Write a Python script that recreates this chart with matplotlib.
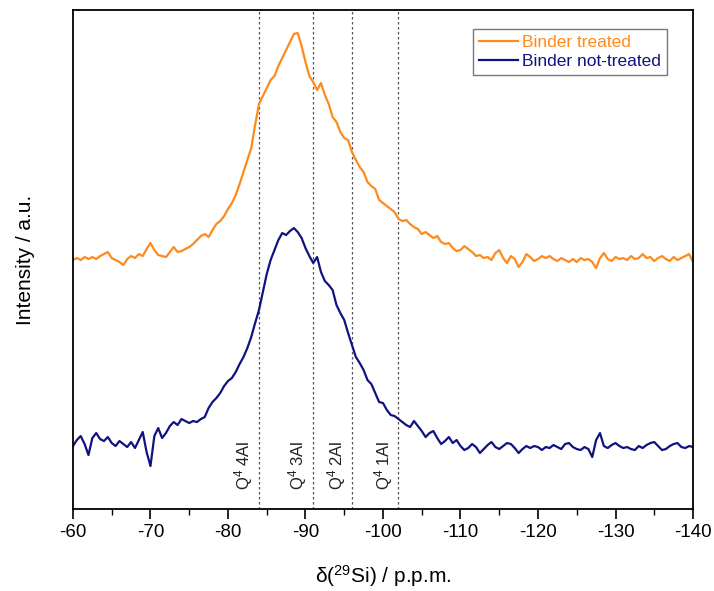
import numpy as np
import matplotlib
matplotlib.use("Agg")
import matplotlib.pyplot as plt

plt.rcParams["font.family"] = ["Liberation Sans", "DejaVu Sans"]
plt.rcParams["mathtext.fontset"] = "custom"
plt.rcParams["mathtext.rm"] = "Liberation Sans"
plt.rcParams["mathtext.it"] = "Liberation Sans:italic"
plt.rcParams["axes.unicode_minus"] = False

# chemical shift axis, -60 ... -140 ppm every 0.5 ppm
shift = -np.arange(60, 140.5, 0.5)

# intensities (a.u.)
treated = [
    249, 251, 249, 252, 250, 252, 250, 253, 255, 257,
    251, 249, 247, 244, 250, 253, 251, 255, 253, 260,
    266, 259, 254, 253, 252, 257, 262, 257, 258, 260,
    262, 265, 269, 273, 275, 272, 279, 285, 288, 293,
    300, 306, 314, 325, 337, 349, 361, 384, 405, 413,
    421, 429, 433, 443, 451, 459, 467, 475, 476, 463,
    447, 433, 427, 419, 426, 414, 405, 392, 387, 377,
    371, 369, 357, 349, 342, 337, 327, 323, 320, 309,
    306, 303, 300, 297, 290, 288, 289, 285, 282, 280,
    275, 277, 274, 271, 273, 267, 265, 266, 261, 258,
    259, 263, 260, 257, 253, 254, 251, 252, 249, 256,
    259, 251, 246, 253, 250, 242, 247, 255, 252, 248,
    250, 253, 251, 253, 250, 248, 251, 249, 247, 250,
    247, 251, 249, 250, 247, 241, 251, 256, 250, 248,
    252, 250, 251, 249, 253, 250, 251, 255, 251, 252,
    248, 251, 253, 250, 248, 252, 249, 251, 253, 255,
    247,
]
not_treated = [
    63, 69, 73, 65, 54, 71, 76, 70, 68, 72,
    66, 63, 68, 65, 62, 67, 61, 69, 77, 57,
    43, 73, 81, 71, 76, 83, 87, 84, 90, 88,
    86, 88, 87, 90, 92, 101, 107, 111, 116, 123,
    128, 131, 137, 145, 152, 161, 172, 186, 199, 217,
    235, 249, 259, 269, 276, 274, 278, 281, 277, 271,
    261, 253, 246, 252, 237, 228, 224, 219, 204, 196,
    189, 176, 164, 152, 146, 139, 129, 125, 116, 107,
    106, 99, 94, 93, 90, 87, 84, 82, 88, 83,
    78, 72, 76, 78, 71, 65, 68, 72, 66, 69,
    63, 59, 61, 65, 62, 56, 60, 64, 67, 62,
    60, 63, 66, 65, 61, 56, 60, 63, 61, 63,
    62, 59, 62, 61, 64, 62, 60, 65, 66, 62,
    60, 59, 62, 60, 52, 69, 76, 63, 61, 64,
    66, 63, 61, 62, 60, 59, 63, 61, 64, 66,
    67, 63, 59, 60, 63, 65, 66, 62, 61, 63,
    62,
]

site_pos = [-84, -91, -96, -102]
site_labels = ["Q$^4$ 4Al", "Q$^4$ 3Al", "Q$^4$ 2Al", "Q$^4$ 1Al"]

orange = "#ff8a1c"
navy = "#10137f"

fig = plt.figure(figsize=(7.14, 5.91), dpi=100)
ax = fig.add_axes([0.1022, 0.1387, 0.8684, 0.8443])

ax.plot(shift, treated, color=orange, lw=1.6, label="Binder treated")
ax.plot(shift, not_treated, color=navy, lw=1.6, label="Binder not-treated")

for xp, lab in zip(site_pos, site_labels):
    ax.axvline(xp, color="#555555", lw=0.9, ls=(0, (2, 2)), zorder=0)
    ax.text(xp + 0.5, 19, lab, rotation=90, ha="right", va="bottom",
            fontsize=12, color="#222222")

ax.set_xlim(-60, -140)
ax.set_ylim(0, 499)
ax.set_xticks(np.arange(-60, -141, -10))
ax.set_xticks(np.arange(-65, -140, -10), minor=True)
ax.tick_params(axis="x", which="major", direction="out", length=7, width=1.2,
               labelsize=13.5, top=False, pad=4)
ax.tick_params(axis="x", which="minor", direction="out", length=4, width=1.0, top=False)
ax.set_yticks([])
for s in ax.spines.values():
    s.set_linewidth(1.3)

ax.set_xlabel(r"$\mathrm{\delta(^{29}Si)}$ / p.p.m.", fontsize=15, labelpad=16)
ax.set_ylabel("Intensity / a.u.", fontsize=15, labelpad=27)

leg = ax.legend(loc="upper right", bbox_to_anchor=(0.958, 0.962), fontsize=12.5,
                fancybox=False, framealpha=1, edgecolor="#777777",
                handlelength=2.2, handletextpad=0.25, borderpad=0.35,
                labelspacing=0.2, borderaxespad=0)
leg.get_frame().set_linewidth(1.0)
for txt, c in zip(leg.get_texts(), [orange, navy]):
    txt.set_color(c)

fig.savefig("out.png", dpi=100)
